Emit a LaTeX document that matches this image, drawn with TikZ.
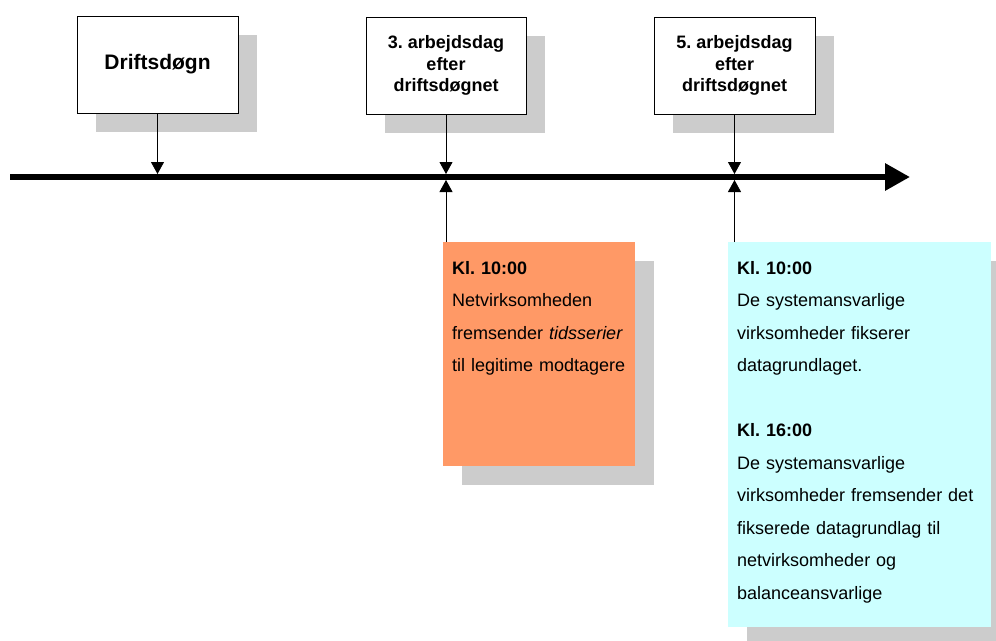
\documentclass[tikz,border=0pt]{standalone}
\usepackage{fontspec}
\setmainfont{Liberation Sans}
\usetikzlibrary{positioning, arrows.meta, shadows}
\definecolor{tsorange}{HTML}{FF9966}
\definecolor{tscyan}{HTML}{CCFFFF}
\definecolor{tsshadow}{HTML}{CCCCCC}
\frenchspacing
\tikzset{
boxshadow/.style={general shadow={fill=tsshadow, shadow xshift=19pt, shadow yshift=-19pt}}, % grey block behind each box
event/.style={draw, line width=0.8pt, fill=white, boxshadow, minimum width=161pt, minimum height=97pt, align=center, font=\fontsize{18}{21.5}\selectfont\bfseries}, % the date boxes above the line
note/.style={boxshadow, anchor=north west, inner xsep=9pt, inner ysep=9pt, text height=23pt, align=left, font=\fontsize{18}{32.5}\selectfont}, % the coloured notes below the line
tick/.style={line width=0.8pt, -{Triangle[length=12pt,width=13pt]}, shorten >=3pt}, % thin arrows to the line
timeline/.style={line width=6pt, -{Triangle[length=25pt,width=26pt]}}, % the time axis
}

\begin{document}
\begin{tikzpicture}[x=1pt, y=-1pt]
        \useasboundingbox (0,0) rectangle (996,640);

        % time axis
        \coordinate (start) at (10,177);
        \coordinate (end) at (910,177);
        \draw[timeline] (start) -- (end);

        % dates
        \node[event, font=\fontsize{21}{24}\selectfont\bfseries] (dd) at (157.5,64.5) {Driftsdøgn};
        \node[event, minimum width=160pt] (a3) at (446,65.5) {3. arbejdsdag\\efter\\driftsdøgnet};
        \node[event] (a5) at (734.5,65.5) {5. arbejdsdag\\efter\\driftsdøgnet};

        % notes
        \node[note, fill=tsorange, text width=174pt, text depth=183pt] (n3) at (443,242)
            {\textbf{Kl. 10:00}\\Netvirksomheden\\fremsender \textit{tidsserier}\\til legitime modtagere};
        \node[note, fill=tscyan, text width=245pt, text depth=344pt] (n5) at (728,242)
            {\textbf{Kl. 10:00}\\De systemansvarlige\\virksomheder fikserer\\datagrundlaget.\\[32.5pt]
             \textbf{Kl. 16:00}\\De systemansvarlige\\virksomheder fremsender det\\fikserede datagrundlag til\\netvirksomheder og\\balanceansvarlige};

        \draw[tick] (dd.south) -- (dd.south |- start);
        \draw[tick] (a3.south) -- (a3.south |- start);
        \draw[tick] (a5.south) -- (a5.south |- start);
        \draw[tick] (a3.south |- n3.north) -- (a3.south |- start);
        \draw[tick] (a5.south |- n5.north) -- (a5.south |- start);
    \end{tikzpicture}
\end{document}
